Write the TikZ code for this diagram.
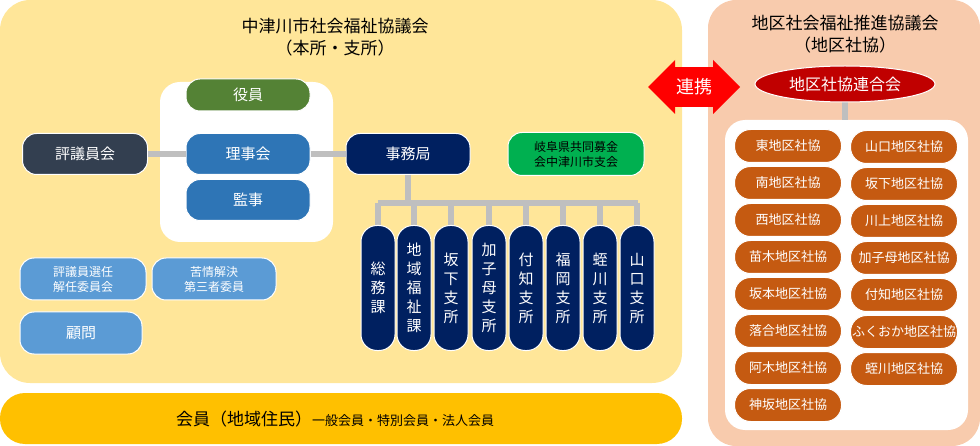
\documentclass[tikz,border=0pt]{standalone}
\usepackage{fontspec}
\setmainfont{Noto Sans CJK JP}
\usepackage{tikz}
\usetikzlibrary{shapes.arrows,shapes.geometric}
\definecolor{panelY}{HTML}{FFE699}
\definecolor{bandY}{HTML}{FFC000}
\definecolor{panelR}{HTML}{F8CBAD}
\definecolor{yakuG}{HTML}{548235}
\definecolor{riB}{HTML}{2E75B6}
\definecolor{hyoD}{HTML}{333F50}
\definecolor{navyB}{HTML}{002060}
\definecolor{kyoG}{HTML}{00B050}
\definecolor{lightB}{HTML}{5B9BD5}
\definecolor{renR}{HTML}{C00000}
\definecolor{shaO}{HTML}{C55A11}
\definecolor{lineG}{HTML}{BFBFBF}
\tikzset{
  pill/.style={rounded corners=14pt, draw=white, line width=1pt, text=white,
    font=\fontsize{15}{18}\selectfont, inner sep=0pt},
  conn/.style={lineG, line width=6pt},
  vbox/.style={pill, fill=navyB, minimum width=34pt, minimum height=125pt,
    rounded corners=16pt, align=center, anchor=north, font=\fontsize{15}{19}\selectfont},
  kbox/.style={pill, fill=shaO, minimum width=107pt, minimum height=33pt,
    rounded corners=16pt, font=\fontsize{13}{15}\selectfont}
}
\begin{document}
\begin{tikzpicture}[x=1pt,y=-1pt]
  \useasboundingbox (0,0) rectangle (980,446);
  % panels
  \fill[panelY, rounded corners=30pt] (0,0) rectangle (682,383);
  \fill[bandY, rounded corners=25pt] (0,393) rectangle (682,444);
  \fill[panelR, rounded corners=28pt] (708,0) rectangle (980,446);
  \fill[white, rounded corners=20pt] (160,82) rectangle (333,242);
  \fill[white, rounded corners=20pt] (725,120) rectangle (968,430);

  % titles
  \node[font=\fontsize{17}{22}\selectfont, align=center] (mainT) at (335,37)
    {中津川市社会福祉協議会\\（本所・支所）};
  \node[font=\fontsize{17}{22}\selectfont, align=center] (areaT) at (845,34)
    {地区社会福祉推進協議会\\（地区社協）};

  % board
  \node[pill, fill=yakuG, minimum width=124pt, minimum height=32pt] (yakuin) at (248,95) {役員};
  \node[pill, fill=riB, minimum width=124pt, minimum height=41pt] (rijikai) at (248,154) {理事会};
  \node[pill, fill=riB, minimum width=124pt, minimum height=41pt] (kanji) at (248,200) {監事};
  \node[pill, fill=hyoD, minimum width=125pt, minimum height=41pt] (hyogiin) at (85,154) {評議員会};
  \node[pill, fill=navyB, minimum width=124pt, minimum height=41pt] (jimu) at (408,154) {事務局};
  \node[pill, fill=kyoG, minimum width=136pt, minimum height=43pt, text=black,
    align=center, font=\fontsize{12}{15}\selectfont] (kyodo) at (576,154)
    {岐阜県共同募金\\会中津川市支会};
  \node[pill, fill=lightB, minimum width=126pt, minimum height=42pt, align=center,
    font=\fontsize{12}{15}\selectfont] (senin) at (83,279) {評議員選任\\解任委員会};
  \node[pill, fill=lightB, minimum width=124pt, minimum height=42pt, align=center,
    font=\fontsize{12}{15}\selectfont] (kujo) at (214,279) {苦情解決\\第三者委員};
  \node[pill, fill=lightB, minimum width=122pt, minimum height=42pt] (komon) at (81,333) {顧問};

  \draw[conn] (hyogiin.east) -- (rijikai.west);
  \draw[conn] (rijikai.east) -- (jimu.west);

  % sections
  \coordinate (bus) at (408,203);
  \draw[conn] (jimu.south) -- (bus);
  \draw[conn] (378,203) -- (638,203);
  \foreach \x/\n/\t in {378/somu/総\\務\\課, 414/chiiki/地\\域\\福\\祉\\課,
      451/sakashita/坂\\下\\支\\所, 489/kashimo/加\\子\\母\\支\\所,
      526/tsukechi/付\\知\\支\\所, 563/fukuoka/福\\岡\\支\\所,
      600/hirukawa/蛭\\川\\支\\所, 637/yamaguchi/山\\口\\支\\所}{
    \draw[conn] (\x,203) -- (\x,226);
    \node[vbox, inner sep=8pt] (\n) at (\x,225) {\t};
  }

  % members
  \node[font=\fontsize{17}{20}\selectfont] (kaiin) at (335,419)
    {会員（地域住民）{\fontsize{13}{15}\selectfont 一般会員・特別会員・法人会員}};

  % link
  \node[double arrow, fill=red, minimum height=92pt, minimum width=54pt,
    double arrow head extend=3pt, inner sep=0pt, text=white,
    font=\fontsize{18}{20}\selectfont] (renkei) at (694,87) {連携};
  \draw[lineG, line width=6pt] (845,95) -- (845,120);
  \node[pill, fill=renR, ellipse, minimum width=180pt, minimum height=36pt,
    font=\fontsize{16}{18}\selectfont] (rengo) at (845,84) {地区社協連合会};

  % area councils
  \foreach \y/\n/\t in {146/higashi/東地区社協, 183/minami/南地区社協, 220/nishi/西地区社協,
      257/naegi/苗木地区社協, 294/sakamoto/坂本地区社協, 331/ochiai/落合地区社協,
      368/agi/阿木地区社協, 405/kamisaka/神坂地区社協}
    \node[kbox] (\n) at (788,\y) {\t};
  \foreach \y/\n/\t in {147/yamaguchiS/山口地区社協, 184/sakashitaS/坂下地区社協,
      221/kawaue/川上地区社協, 258/kashimoS/加子母地区社協, 295/tsukechiS/付知地区社協,
      332/fukuokaS/ふくおか地区社協, 369/hirukawaS/蛭川地区社協}
    \node[kbox] (\n) at (904,\y) {\t};
\end{tikzpicture}
\end{document}
